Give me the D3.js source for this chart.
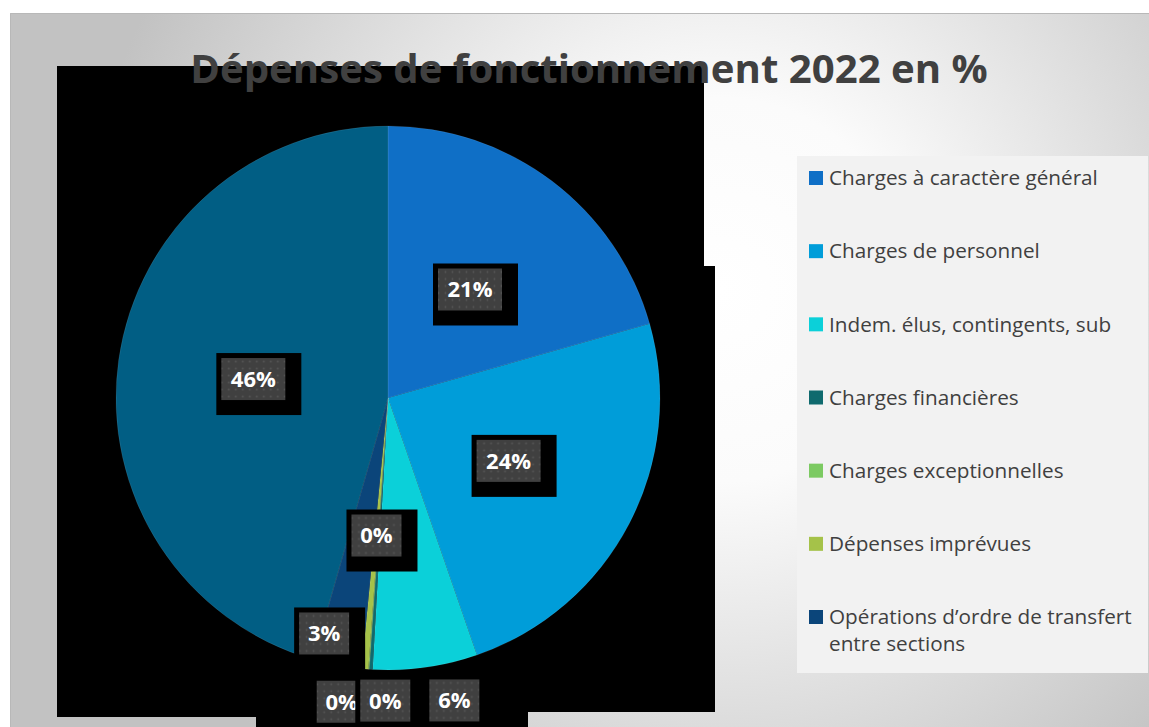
<!DOCTYPE html>
<html>
<head>
<meta charset="utf-8">
<script src="https://cdn.jsdelivr.net/npm/d3@7"></script>
<style>
  body { margin: 0; background: #fff; }
  svg { display: block; font-family: "Open Sans", sans-serif; }
</style>
</head>
<body>
<svg id="chart" width="1149" height="727"></svg>
<script>
// data (share of spending, %)
const categories = [
  'Charges à caractère général',
  'Charges de personnel',
  'Indem. élus, contingents, sub',
  'Charges financières',
  'Charges exceptionnelles',
  'Dépenses imprévues',
  'Opérations d’ordre de transfert entre sections',
  'Autres charges'
];
const shares = [20.6, 24.1, 6.2, 0.2, 0.05, 0.4, 2.9, 45.55];
const colors = ['#0f6fc6', '#009dd9', '#0bd0d9', '#0f6a6e', '#7cca62', '#a5c249', '#0b457a', '#015e84'];
const legendCount = 7; // the last slice has no legend entry

// where each label sits: radius factor of the centroid + small nudge in px
const labelRadius = [0.5, 0.5, 1.13, 1.13, 1.13, 0.5, 0.9, 0.5];
const labelNudge = [[0, 0], [0, 0], [24, -2], [-27, -3], [19, -4], [0, 2], [-18, -5], [0, 0]];

const svg = d3.select('#chart');
const W = 1149, H = 727;

// ---- background panel
const defs = svg.append('defs');
const grad = defs.append('radialGradient')
  .attr('id', 'bg')
  .attr('gradientUnits', 'userSpaceOnUse')
  .attr('cx', 720).attr('cy', 290).attr('r', 640);
grad.append('stop').attr('offset', 0).attr('stop-color', '#ffffff');
grad.append('stop').attr('offset', 0.3).attr('stop-color', '#fbfbfb');
grad.append('stop').attr('offset', 1).attr('stop-color', '#c2c2c2');

const dots = defs.append('pattern')
  .attr('id', 'dots')
  .attr('patternUnits', 'userSpaceOnUse')
  .attr('width', 7).attr('height', 7);
dots.append('rect').attr('width', 7).attr('height', 7).attr('fill', '#404040');
dots.append('circle').attr('cx', 3.5).attr('cy', 3.5).attr('r', 0.9).attr('fill', '#575757');

svg.append('rect')
  .attr('x', 10).attr('y', 13)
  .attr('width', W - 10).attr('height', H - 13)
  .attr('fill', 'url(#bg)');
svg.append('path')
  .attr('d', `M10.5,${H} V13.5 H${W}`)
  .attr('fill', 'none')
  .attr('stroke', '#b8b8b8');

// ---- black plot-area block (as rendered in the original)
svg.append('path')
  .attr('d', 'M57,66 H704 V266 H715 V712 H528 V727 H256 V717 H57 Z')
  .attr('fill', '#000');

// ---- title
const title = svg.append('text')
  .attr('x', 589).attr('y', 83)
  .attr('text-anchor', 'middle')
  .attr('fill', '#404040')
  .attr('font-weight', 700)
  .attr('font-size', 40)
  .text('Dépenses de fonctionnement 2022 en %');
{
  const w = title.node().getComputedTextLength();
  title.attr('font-size', 40 * 798 / w);
}

// ---- pie
const cx = 388, cy = 398, radius = 272;
const pie = d3.pie().sort(null).value(d => d);
const arcs = pie(shares);
const arc = d3.arc().innerRadius(0).outerRadius(radius);

const g = svg.append('g').attr('transform', `translate(${cx},${cy})`);
g.selectAll('path.slice')
  .data(arcs)
  .join('path')
  .attr('class', 'slice')
  .attr('d', arc)
  .attr('fill', (d, i) => colors[i])
  .attr('stroke', 'rgba(255,255,255,0.15)')
  .attr('stroke-width', 0.6);

// ---- data labels (each one: black block, dotted grey box, white text)
const labels = g.selectAll('g.lbl')
  .data(arcs)
  .join('g')
  .attr('class', 'lbl')
  .attr('transform', (d, i) => {
    const r = radius * labelRadius[i];
    const [x, y] = d3.arc().innerRadius(r).outerRadius(r).centroid(d);
    return `translate(${x + labelNudge[i][0]},${y + labelNudge[i][1]})`;
  });

labels.each(function(d) {
  const sel = d3.select(this);
  const txt = Math.round(d.data) + '%';
  const bw = txt.length > 2 ? 64 : 50, bh = 42;
  sel.append('rect')
    .attr('x', -bw / 2 - 5).attr('y', -bh / 2 - 5)
    .attr('width', bw + 21).attr('height', bh + 20)
    .attr('fill', '#000');
  sel.append('rect')
    .attr('x', -bw / 2).attr('y', -bh / 2)
    .attr('width', bw).attr('height', bh)
    .attr('fill', 'url(#dots)');
  sel.append('text')
    .attr('text-anchor', 'middle')
    .attr('dy', '0.36em')
    .attr('fill', '#fff')
    .attr('font-weight', 700)
    .attr('font-size', 22)
    .text(txt);
});

// ---- legend
svg.append('rect')
  .attr('x', 797).attr('y', 156)
  .attr('width', 351).attr('height', 517)
  .attr('fill', '#f2f2f2');

const rowY = d3.scaleLinear().domain([0, legendCount - 1]).range([178, 617]);
const legend = svg.append('g');
const items = legend.selectAll('g.item')
  .data(categories.slice(0, legendCount))
  .join('g')
  .attr('class', 'item')
  .attr('transform', (d, i) => `translate(809,${rowY(i)})`);

items.append('rect')
  .attr('x', 0).attr('y', -7)
  .attr('width', 14).attr('height', 14)
  .attr('fill', (d, i) => colors[i]);

const legendText = items.append('text')
  .attr('x', 20)
  .attr('dy', '0.35em')
  .attr('fill', '#404040')
  .attr('font-size', 19);

// fit the font size on the first entry, then wrap long entries
legendText.filter((d, i) => i === 0).text(d => d);
{
  const w = legendText.filter((d, i) => i === 0).node().getComputedTextLength();
  legendText.attr('font-size', 19 * 269 / w);
}
legendText.text(null).each(function(d) {
  const t = d3.select(this);
  const words = d.split(' ');
  let line = [];
  let tspan = t.append('tspan').attr('x', 20);
  words.forEach(word => {
    line.push(word);
    tspan.text(line.join(' '));
    if (tspan.node().getComputedTextLength() > 312 && line.length > 1) {
      line.pop();
      tspan.text(line.join(' '));
      line = [word];
      tspan = t.append('tspan').attr('x', 20).attr('dy', 27).text(word);
    }
  });
});
</script>
</body>
</html>
